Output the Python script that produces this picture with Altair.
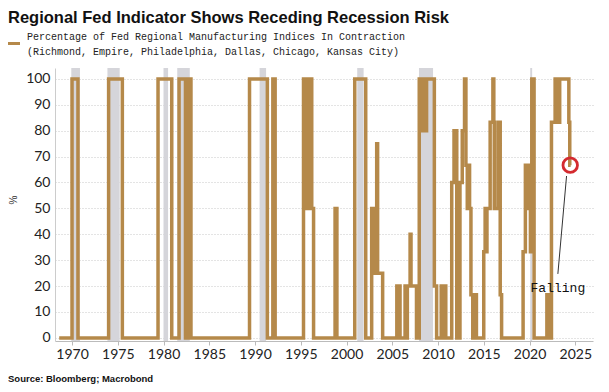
import altair as alt
import pandas as pd

# ---- data (change points; line drawn as step-after) ----
years = [1968.6, 1970.0, 1970.65, 1974.0, 1975.5, 1979.4, 1980.9, 1981.7, 1982.4, 1982.45,
         1982.6, 1982.65, 1983.0, 1989.4, 1991.35, 1991.95, 1992.2, 1995.3, 1995.6, 1995.7,
         1995.75, 1996.0, 1996.2, 1996.4, 1998.75, 1998.95, 2000.9, 2002.1, 2002.75, 2002.9,
         2003.0, 2003.1, 2003.3, 2003.4, 2003.95, 2005.5, 2005.85, 2006.4, 2006.55, 2006.65,
         2006.95, 2007.05, 2007.65, 2007.95, 2008.2, 2008.3, 2008.4, 2008.5, 2008.6, 2008.75,
         2009.6, 2009.85, 2010.35, 2010.5, 2010.65, 2010.85, 2011.5, 2011.75, 2012.05, 2012.4,
         2012.65, 2012.9, 2013.05, 2013.2, 2013.3, 2013.45, 2013.6, 2013.8, 2013.85, 2014.2,
         2015.0, 2015.15, 2015.25, 2015.35, 2015.7, 2016.0, 2016.1, 2016.15, 2016.55, 2016.8,
         2016.95, 2019.3, 2019.55, 2019.7, 2019.8, 2019.95, 2020.0, 2020.1, 2020.25, 2020.5,
         2021.9, 2022.25, 2022.4, 2022.8, 2022.95, 2023.05, 2023.2, 2023.3, 2024.3, 2024.4,
         2024.5]
values = [0, 100, 0, 100, 0, 100, 0, 100, 0, 100,
          0, 100, 0, 100, 0, 100, 0, 100, 50, 100,
          50, 100, 50, 0, 50, 0, 100, 0, 50, 25,
          50, 25, 75, 25, 0, 20, 0, 20, 0, 20,
          40, 20, 0, 100, 80, 100, 80, 100, 80, 100,
          20, 0, 20, 0, 20, 0, 60, 80, 0, 60,
          80, 100, 66.7, 50, 66.7, 50, 16.7, 0, 16.7, 0,
          33.3, 50, 33.3, 50, 83.3, 100, 83.3, 50, 83.3, 16.7,
          0, 33.3, 66.7, 50, 66.7, 50, 66.7, 33.3, 100, 0,
          16.7, 0, 83.3, 100, 83.3, 100, 83.3, 100, 83.3, 66.7,
          66.7]

rec_start = [1969.92, 1973.87, 1980.0, 1981.5, 1990.5, 2001.17, 2007.92, 2020.08]
rec_end = [1970.87, 1975.21, 1980.5, 1982.87, 1991.21, 2001.87, 2009.46, 2020.29]

x_ticks = [1970, 1975, 1980, 1985, 1990, 1995, 2000, 2005, 2010, 2015, 2020, 2025]
y_ticks = [0, 10, 20, 30, 40, 50, 60, 70, 80, 90, 100]

title_text = ["Regional Fed Indicator Shows Receding Recession Risk"]
legend_line1 = ["Percentage of Fed Regional Manufacturing Indices In Contraction"]
legend_line2 = ["(Richmond, Empire, Philadelphia, Dallas, Chicago, Kansas City)"]
source_text = ["Source: Bloomberg; Macrobond"]

marker_x, marker_y = [2024.45], [66.7]
note_x, note_y, note_x2, note_y2 = [2024.05], [62.5], [2023.1], [24.7]
note_label = ["Falling"]
note_lx, note_ly = [2023.1], [19.4]

LINE = "#B5894A"
W, H = 538, 273

line_df = pd.DataFrame({"year": years, "pct": values})
rec_df = pd.DataFrame({"start": rec_start, "end": rec_end})

xscale = alt.Scale(domain=[1968.14, 2026.94], nice=False, zero=False)
yscale = alt.Scale(domain=[-1.2, 104.2], nice=False, zero=False)

xaxis = alt.Axis(values=x_ticks, format="d", title=None, grid=False,
                 domainColor="#bbbbbb", tickColor="#bbbbbb", tickSize=4,
                 labelFont="Lato", labelFontSize=14, labelColor="#222222",
                 labelPadding=2, labelOverlap=False)
yaxis = alt.Axis(values=y_ticks, title="%", grid=True, gridColor="#c8c8c8",
                 gridDash=[1, 2], domainColor="#cccccc", ticks=False,
                 labelFont="Lato", labelFontSize=14, labelColor="#222222",
                 labelPadding=5, labelOverlap=False, titleFontSize=10,
                 titleFontWeight="normal", titleColor="#333333",
                 titleX=-37, titleY=H / 2 - 5)


def X(f):
    return alt.X(f, scale=xscale, axis=xaxis)


def Y(f):
    return alt.Y(f, scale=yscale, axis=yaxis)


bands = alt.Chart(rec_df).mark_rect(color="#d5d5da").encode(
    x=X("start:Q"), x2="end:Q", y=alt.value(0), y2=alt.value(H),
)

line = alt.Chart(line_df).mark_line(color=LINE, strokeWidth=3.5, interpolate="step-after").encode(
    x=X("year:Q"), y=Y("pct:Q"),
)

marker = alt.Chart(pd.DataFrame({"x": marker_x, "y": marker_y})).mark_point(
    shape="circle", size=210, filled=False, stroke="#D42A2F", strokeWidth=2.8, opacity=1
).encode(x=X("x:Q"), y=Y("y:Q"))

note_rule = alt.Chart(pd.DataFrame({"x": note_x, "y": note_y, "x2": note_x2, "y2": note_y2})).mark_rule(
    color="#333333", strokeWidth=1
).encode(x=X("x:Q"), y=Y("y:Q"), x2="x2:Q", y2="y2:Q")

note_text = alt.Chart(pd.DataFrame({"x": note_lx, "y": note_ly, "t": note_label})).mark_text(
    font="Liberation Mono", fontSize=13, color="#111111", align="center", baseline="middle"
).encode(x=X("x:Q"), y=Y("y:Q"), text="t:N")

title = alt.Chart(pd.DataFrame({"t": title_text})).mark_text(
    font="Liberation Sans", fontSize=16.5, fontWeight="bold", color="#111111",
    align="left", baseline="alphabetic"
).encode(text="t:N", x=alt.value(-47), y=alt.value(-45.5))

legend_text1 = alt.Chart(pd.DataFrame({"t": legend_line1})).mark_text(
    font="Liberation Mono", fontSize=10, color="#222222", align="left", baseline="alphabetic"
).encode(text="t:N", x=alt.value(-28), y=alt.value(-28.5))

legend_text2 = alt.Chart(pd.DataFrame({"t": legend_line2})).mark_text(
    font="Liberation Mono", fontSize=10, color="#222222", align="left", baseline="alphabetic"
).encode(text="t:N", x=alt.value(-28), y=alt.value(-13.5))

legend_sym = alt.Chart(pd.DataFrame({"t": ["s"]})).mark_rule(color=LINE, strokeWidth=3).encode(
    x=alt.value(-47), x2=alt.value(-35), y=alt.value(-24.5))

source = alt.Chart(pd.DataFrame({"t": source_text})).mark_text(
    font="Liberation Sans", fontSize=9.5, fontWeight="bold", color="#111111",
    align="left", baseline="middle"
).encode(text="t:N", x=alt.value(-47), y=alt.value(311))

chart = alt.layer(bands, line, marker, note_rule, note_text, title, legend_sym,
                  legend_text1, legend_text2, source).properties(
    width=W, height=H,
    autosize=alt.AutoSizeParams(type="none"),
    padding={"left": 47, "top": 60, "right": 8, "bottom": 43},
).configure_view(stroke=None)

chart.save("out.html", embed_options={"renderer": "svg", "actions": False})
